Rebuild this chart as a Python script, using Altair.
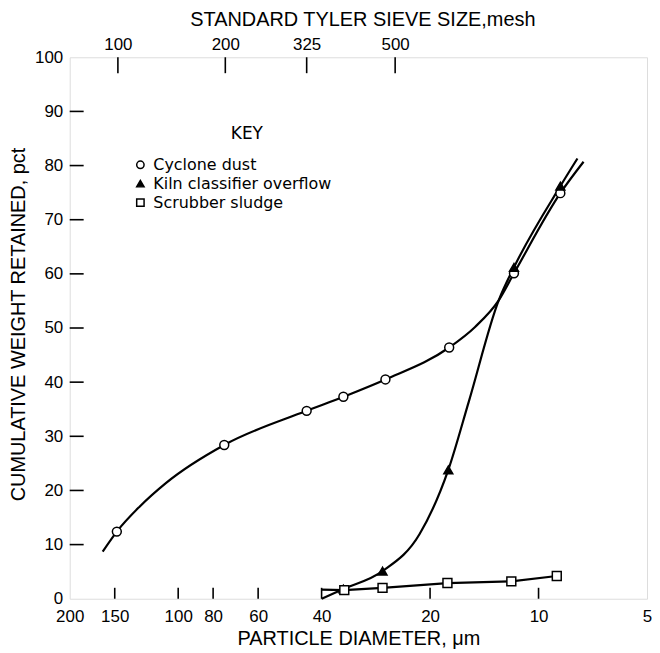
import altair as alt
import pandas as pd

# ---------------- data ----------------
x_tick_values = [200, 150, 100, 80, 60, 40, 20, 10, 5]
x_inner_ticks = [150, 100, 80, 60, 40, 20, 10]
y_tick_values = [0, 10, 20, 30, 40, 50, 60, 70, 80, 90, 100]
y_inner_ticks = [10, 20, 30, 40, 50, 60, 70, 80, 90]
mesh_labels = ["100", "200", "325", "500"]
mesh_um = [147, 74, 44, 25]

series_names = ["Cyclone dust", "Kiln classifier overflow", "Scrubber sludge"]

# plotted symbols
cyclone_um = [148, 74.5, 44, 34.8, 26.6, 17.7, 11.7, 8.7]
cyclone_pct = [12.4, 28.4, 34.7, 37.3, 40.5, 46.4, 60.1, 74.9]
kiln_um = [34.8, 27.1, 17.8, 11.7, 8.7]
kiln_pct = [1.8, 5.1, 23.8, 61.2, 76.2]
sludge_um = [34.6, 27.1, 17.9, 11.9, 8.9]
sludge_pct = [1.6, 2.0, 2.9, 3.2, 4.2]

# hand-drawn curve paths
cyclone_curve_um = [162, 148, 128, 108, 74.5, 44, 34.8, 26.6, 17.7, 15.0, 12.9, 11.7, 8.7, 7.5]
cyclone_curve_pct = [8.7, 12.4, 17.0, 21.4, 28.4, 34.7, 37.3, 40.5, 46.4, 50.2, 55.1, 60.1, 74.9, 80.7]
kiln_curve_um = [40, 34.8, 27.1, 21.4, 17.8, 15.6, 12.9, 11.7, 8.7, 7.8]
kiln_curve_pct = [0, 1.8, 5.1, 11.9, 23.8, 36.5, 55.1, 61.2, 76.2, 81.3]
sludge_curve_um = [40, 34.6, 27.1, 17.9, 11.9, 8.9]
sludge_curve_pct = [1.7, 1.6, 2.0, 2.9, 3.2, 4.2]

FONT = "DejaVu Sans"
W, H = 580, 544

# ---------------- tables ----------------
def curve_df(um, pct):
    return pd.DataFrame({"um": um, "pct": pct, "idx": list(range(len(um)))})

pts = pd.concat([
    pd.DataFrame({"um": cyclone_um, "pct": cyclone_pct, "series": series_names[0]}),
    pd.DataFrame({"um": kiln_um, "pct": kiln_pct, "series": series_names[1]}),
    pd.DataFrame({"um": sludge_um, "pct": sludge_pct, "series": series_names[2]}),
], ignore_index=True)

xscale = alt.Scale(type="log", domain=[5, 200], reverse=True, nice=False)
yscale = alt.Scale(domain=[0, 100], nice=False, zero=True)

y_axis = alt.Axis(
    values=y_tick_values, title="CUMULATIVE WEIGHT RETAINED, pct",
    ticks=False, tickSize=0, domain=False, grid=False,
    labelFontSize=17, labelPadding=7, labelFlush=False, labelOverlap=False,
    titleFontSize=20, titleFontWeight="normal", titleAngle=270, titleX=-45,
    titleY=H / 2 - 4, titleAlign="center", titleBaseline="alphabetic",
)

def Y():
    return alt.Y("pct:Q", scale=yscale, axis=y_axis)

def Xnone():
    return alt.X("um:Q", scale=xscale, axis=None)

# curves
def curve(um, pct, interp):
    return alt.Chart(curve_df(um, pct)).mark_line(
        color="black", strokeWidth=2.2, interpolate=interp
    ).encode(x=Xnone(), y=Y(), order=alt.Order("idx:Q"))

cyc_line = curve(cyclone_curve_um, cyclone_curve_pct, "monotone")
kiln_line = curve(kiln_curve_um, kiln_curve_pct, "monotone")
sludge_line = curve(sludge_curve_um, sludge_curve_pct, "linear")

legend = alt.Legend(
    title=None, orient="none", legendX=63, legendY=100, padding=0,
    labelFont=FONT, labelFontSize=16, labelColor="black", labelOffset=5,
    labelLimit=400, symbolSize=55, symbolStrokeWidth=1.5, rowPadding=3,
)

points = alt.Chart(pts).mark_point(
    filled=True, strokeWidth=1.5, size=80, opacity=1
).encode(
    x=Xnone(), y=Y(),
    shape=alt.Shape("series:N", scale=alt.Scale(domain=series_names,
                    range=["circle", "triangle-up", "square"]), legend=legend),
    fill=alt.Fill("series:N", scale=alt.Scale(domain=series_names,
                  range=["white", "black", "white"]), legend=legend),
    stroke=alt.Stroke("series:N", scale=alt.Scale(domain=series_names,
                      range=["black", "black", "black"]), legend=legend),
)

# bottom axis + inward ticks
bottom_ticks = alt.Chart(pd.DataFrame({"um": x_inner_ticks})).mark_rule(
    color="black", strokeWidth=1.6
).encode(
    x=alt.X("um:Q", scale=xscale, axis=alt.Axis(
        values=x_tick_values, format="d", title="PARTICLE DIAMETER, μm",
        ticks=False, tickSize=0, domain=False, grid=False,
        labelFontSize=17, labelPadding=23, labelBaseline="alphabetic",
        labelFlush=False, labelOverlap=False,
        titleFontSize=20, titleFontWeight="normal", titleX=W / 2, titleY=46,
        titleAlign="center", titleBaseline="alphabetic",
    )),
    y=alt.value(H), y2=alt.value(H - 11),
)

# top (mesh) axis + inward ticks
label_expr = " : ".join(
    f"datum.value == {v} ? '{l}'" for v, l in zip(mesh_um, mesh_labels)
) + " : ''"
top_ticks = alt.Chart(pd.DataFrame({"um": mesh_um})).mark_rule(
    color="black", strokeWidth=1.6
).encode(
    x=alt.X("um:Q", scale=xscale, axis=alt.Axis(
        orient="top", values=mesh_um, labelExpr=label_expr,
        title="STANDARD TYLER SIEVE SIZE,mesh",
        ticks=False, tickSize=0, domain=False, grid=False,
        labelFontSize=17, labelPadding=8, labelBaseline="alphabetic",
        labelFlush=False, labelOverlap=False,
        titleFontSize=20, titleFontWeight="normal", titleX=W / 2 + 4,
        titleY=-32, titleAlign="center", titleBaseline="alphabetic",
    )),
    y=alt.value(0), y2=alt.value(16),
)

# left inward ticks
left_ticks = alt.Chart(pd.DataFrame({"pct": y_inner_ticks})).mark_rule(
    color="black", strokeWidth=1.6
).encode(y=Y(), x=alt.value(0), x2=alt.value(14))

key_text = alt.Chart(pd.DataFrame({"label": ["KEY"]})).mark_text(
    font=FONT, fontSize=17, color="black", baseline="middle", align="center"
).encode(text="label:N", x=alt.value(178), y=alt.value(77))

chart = alt.layer(
    left_ticks, bottom_ticks, top_ticks,
    cyc_line, kiln_line, sludge_line, points, key_text,
).resolve_scale(x="independent").resolve_axis(x="independent").properties(
    width=W, height=H,
    autosize=alt.AutoSizeParams(type="none"),
    padding={"left": 62, "top": 48, "right": 5, "bottom": 50},
).configure_view(
    stroke="black", strokeWidth=2
).configure_axis(
    labelFont=FONT, titleFont=FONT, labelColor="black", titleColor="black",
    titleFontWeight="normal",
).configure(background="white")

chart.save("out.html", embed_options={"renderer": "svg", "actions": False})
